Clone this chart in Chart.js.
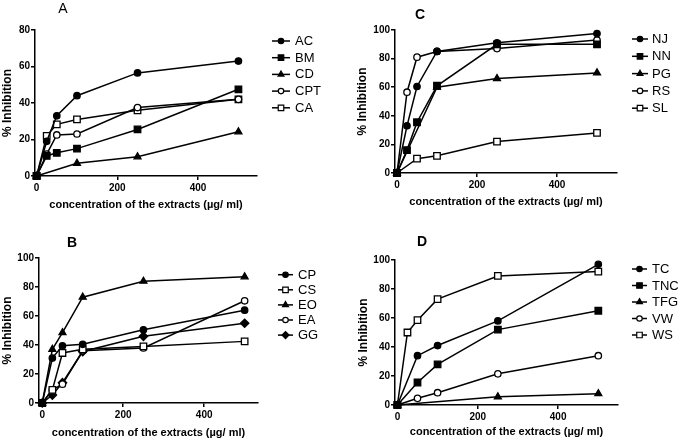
<!DOCTYPE html>
<html>
<head>
<meta charset="utf-8">
<script src="https://cdn.jsdelivr.net/npm/chart.js@4.4.1/dist/chart.umd.min.js"></script>
<style>
  body { margin: 0; background: #fff; }
  #wrap { position: relative; width: 683px; height: 445px; }
  canvas { position: absolute; }
</style>
</head>
<body>
<div id="wrap">
  <canvas id="chartA" width="341" height="222" style="left:0;top:0"></canvas>
  <canvas id="chartC" width="342" height="222" style="left:341px;top:0"></canvas>
  <canvas id="chartB" width="341" height="223" style="left:0;top:222px"></canvas>
  <canvas id="chartD" width="342" height="223" style="left:341px;top:222px"></canvas>
</div>
<script>
// concentrations (µg/ml) and axis ticks
const conc = [0, 25, 50, 100, 250, 500];
const xTicks = [0, 200, 400];

// panel A
const labelsA = ['AC', 'BM', 'CD', 'CPT', 'CA'];
const AC  = [0, 19, 33, 44, 56.5, 63];
const BM  = [0, 11, 12.7, 15, 25.5, 47.5];
const CD  = [0, null, null, 7, 10.5, 24.2];
const CPT = [0, 12, 22.5, 23, 37.5, 42];
const CA  = [0, 22, 28.3, 31, 36, 42];

// panel B
const labelsB = ['CP', 'CS', 'EO', 'EA', 'GG'];
const CP = [0, 31, 39.5, 40.5, 50.5, 64];
const CS = [0, 9, 34.5, 37, 39, 42.5];
const EO = [0, 37, 48.5, 73, 84, 87];
const EA = [0, 9, 13, 36, 38, 70.5];
const GG = [0, 5.5, 14, 35.5, 46, 55];

// panel C
const labelsC = ['NJ', 'NN', 'PG', 'RS', 'SL'];
const NJ = [0, 33, 60.5, 85, 91, 97.5];
const NN = [0, 16, 35.5, 61, 90, 90];
const PG = [0, null, null, 60, 66, 70];
const RS = [0, 56.5, 81, 85, 87, 93];
const SL = [0, null, 10, 12, 22, 28];

// panel D
const labelsD = ['TC', 'TNC', 'TFG', 'VW', 'WS'];
const TC  = [0, null, 34, 41, 58, 97];
const TNC = [0, null, 15.5, 28, 52, 65];
const TFG = [0, null, null, null, 5.7, 7.8];
const VW  = [0, null, 4.6, 8.5, 21.5, 34];
const WS  = [0, 50, 58.5, 73, 89, 92];

const FONT = "'Liberation Sans', Arial, sans-serif";

// marker looks: [pointStyle, radius, open?]
const M = {
  dot:     ['circle', 3.2, false],
  square:  ['rect', 4.6, false],
  tri:     ['triangle', 4, false],
  ring:    ['circle', 3.2, true],
  box:     ['rect', 4.6, true],
  diamond: ['rectRot', 4.2, false]
};

function series(label, values, mk) {
  const pts = conc.map((x, i) => ({ x: x, y: values[i] })).filter(p => p.y !== null);
  return {
    label: label,
    data: pts,
    borderColor: '#000',
    borderWidth: 1.5,
    pointStyle: mk[0],
    pointRadius: mk[1],
    pointHoverRadius: mk[1],
    pointBorderWidth: 1.3,
    pointBorderColor: '#000',
    pointBackgroundColor: mk[2] ? '#fff' : '#000',
    tension: 0,
    clip: false
  };
}

// legend (line + marker) and panel letter, Prism style
const prismLegend = {
  id: 'prismLegend',
  afterDraw(chart, args, o) {
    const ctx = chart.ctx;
    ctx.save();
    chart.data.datasets.forEach((ds, i) => {
      const y = o.y + i * o.step;
      ctx.strokeStyle = '#000';
      ctx.lineWidth = 1.5;
      ctx.beginPath();
      ctx.moveTo(o.x, y);
      ctx.lineTo(o.x + o.len, y);
      ctx.stroke();
      ctx.fillStyle = ds.pointBackgroundColor;
      ctx.lineWidth = 1.2;
      Chart.helpers.drawPoint(ctx, {
        pointStyle: ds.pointStyle,
        radius: ds.pointRadius * 0.85,
        borderWidth: 1.2,
        rotation: 0
      }, o.x + o.len / 2, y);
      ctx.fillStyle = '#000';
      ctx.font = o.font;
      ctx.textAlign = 'left';
      ctx.textBaseline = 'middle';
      ctx.fillText(ds.label, o.x + o.len + o.gap, y + 0.5);
    });
    ctx.font = o.titleFont;
    ctx.textAlign = 'center';
    ctx.textBaseline = 'middle';
    ctx.fillText(o.title, o.tx, o.ty);
    ctx.restore();
  }
};

function makePanel(id, datasets, p) {
  new Chart(document.getElementById(id).getContext('2d'), {
    type: 'line',
    data: { datasets: datasets },
    plugins: [prismLegend],
    options: {
      responsive: false,
      animation: false,
      events: [],
      layout: { padding: { left: 0, top: p.top, right: p.right, bottom: 0 } },
      plugins: {
        legend: { display: false },
        tooltip: { enabled: false },
        prismLegend: p.legend
      },
      scales: {
        x: {
          type: 'linear',
          min: p.xmin,
          max: p.xmax,
          afterBuildTicks: s => { s.ticks = xTicks.map(v => ({ value: v })); },
          afterFit: s => { s.height = p.H; },
          grid: { drawOnChartArea: false, drawTicks: true, tickLength: 4, color: '#000', lineWidth: 1.5 },
          border: { display: true, color: '#000', width: 1.5 },
          ticks: { color: '#000', padding: 2, maxRotation: 0, font: { family: FONT, size: 10, weight: 'bold' } },
          title: {
            display: true,
            text: 'concentration of the extracts (µg/ ml)',
            color: '#000',
            padding: { top: 0, bottom: p.xtPad },
            font: { family: FONT, size: 11, weight: 'bold' }
          }
        },
        y: {
          min: 0,
          max: p.ymax,
          afterFit: s => { s.width = p.W; },
          grid: { drawOnChartArea: false, drawTicks: true, tickLength: 4, color: '#000', lineWidth: 1.5 },
          border: { display: true, color: '#000', width: 1.5 },
          ticks: { color: '#000', stepSize: 20, padding: 1, font: { family: FONT, size: 10, weight: 'bold' } },
          title: {
            display: true,
            text: '% Inhibition',
            color: '#000',
            padding: { top: p.ytPad, bottom: 0 },
            font: { family: FONT, size: 12, weight: 'bold' }
          }
        }
      }
    }
  });
}

makePanel('chartA', [
  series(labelsA[0], AC, M.dot),
  series(labelsA[1], BM, M.square),
  series(labelsA[2], CD, M.tri),
  series(labelsA[3], CPT, M.ring),
  series(labelsA[4], CA, M.box)
], {
  W: 35, H: 46, top: 30, right: 84, xmin: -4, xmax: 546, ymax: 80, ytPad: 0.8, xtPad: 10.4,
  legend: { x: 272, y: 41, step: 16.7, len: 18, gap: 5, font: '13px ' + FONT,
            title: 'A', tx: 63, ty: 9, titleFont: '14px ' + FONT }
});

makePanel('chartC', [
  series(labelsC[0], NJ, M.dot),
  series(labelsC[1], NN, M.square),
  series(labelsC[2], PG, M.tri),
  series(labelsC[3], RS, M.ring),
  series(labelsC[4], SL, M.box)
], {
  W: 54, H: 49, top: 30, right: 66, xmin: -5, xmax: 550, ymax: 100, ytPad: 14.8, xtPad: 13.4,
  legend: { x: 291, y: 39, step: 17.3, len: 16, gap: 4, font: '13px ' + FONT,
            title: 'C', tx: 79, ty: 15, titleFont: 'bold 14px ' + FONT }
});

makePanel('chartB', [
  series(labelsB[0], CP, M.dot),
  series(labelsB[1], CS, M.box),
  series(labelsB[2], EO, M.tri),
  series(labelsB[3], EA, M.ring),
  series(labelsB[4], GG, M.diamond)
], {
  W: 39, H: 42, top: 36, right: 83, xmin: -8, xmax: 533, ymax: 100, ytPad: 0.8, xtPad: 5.4,
  legend: { x: 278, y: 52.7, step: 15.1, len: 15, gap: 5, font: '13px ' + FONT,
            title: 'B', tx: 72, ty: 21, titleFont: 'bold 14px ' + FONT }
});

makePanel('chartD', [
  series(labelsD[0], TC, M.dot),
  series(labelsD[1], TNC, M.square),
  series(labelsD[2], TFG, M.tri),
  series(labelsD[3], VW, M.ring),
  series(labelsD[4], WS, M.box)
], {
  W: 54, H: 40, top: 38, right: 65, xmin: -6, xmax: 549, ymax: 100, ytPad: 15.8, xtPad: 6.4,
  legend: { x: 291, y: 47, step: 16.5, len: 15, gap: 5, font: '13px ' + FONT,
            title: 'D', tx: 81, ty: 20, titleFont: 'bold 14px ' + FONT }
});
</script>
</body>
</html>
